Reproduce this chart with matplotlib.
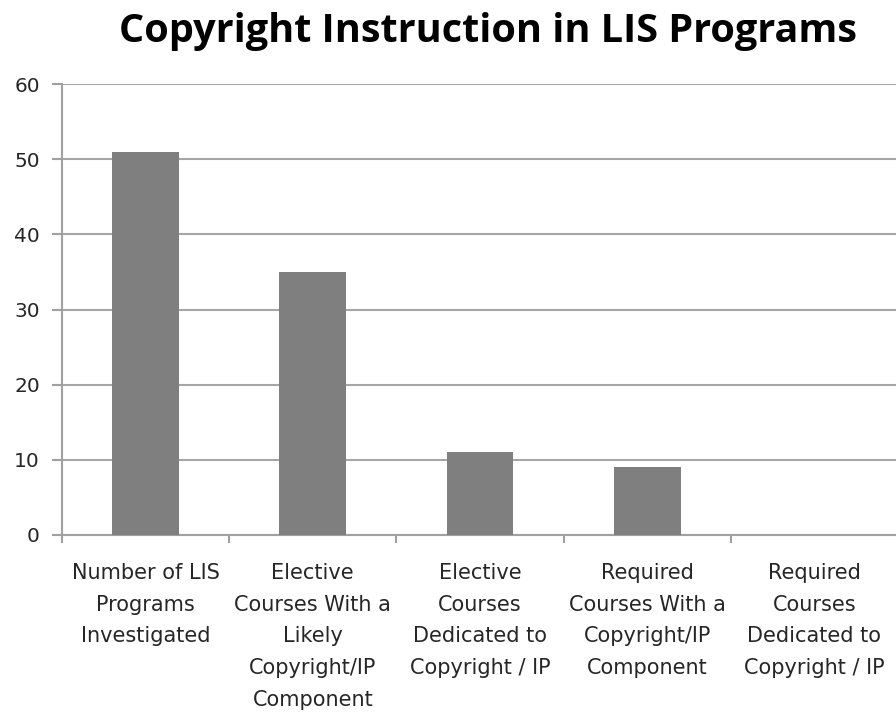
import matplotlib
matplotlib.use("Agg")
import matplotlib.pyplot as plt
import numpy as np

# Chart data
categories = [
    "Number of LIS\nPrograms\nInvestigated",
    "Elective\nCourses With a\nLikely\nCopyright/IP\nComponent",
    "Elective\nCourses\nDedicated to\nCopyright / IP",
    "Required\nCourses With a\nCopyright/IP\nComponent",
    "Required\nCourses\nDedicated to\nCopyright / IP",
]
values = [51, 35, 11, 9, 0]
y_ticks = [0, 10, 20, 30, 40, 50, 60]

bar_color = "#7f7f7f"
grid_color = "#a6a6a6"
axis_color = "#a0a0a0"

fig = plt.figure(figsize=(8.96, 7.13), dpi=100)
# axes frame in pixel terms: left 62, right ~898, top 84, bottom 535
W, H = 896, 713
ax = fig.add_axes([62 / W, 1 - 535 / H, (898 - 62) / W, (535 - 84) / H])

x = np.arange(len(categories))
ax.bar(x, values, width=0.4, color=bar_color, zorder=3)

ax.set_xlim(-0.5, len(categories) - 0.5)
ax.set_ylim(0, 60)
ax.set_yticks(y_ticks)
ax.yaxis.grid(True, color=grid_color, linewidth=1.5, zorder=0)

for s in ["top", "right"]:
    ax.spines[s].set_visible(False)
for s in ["left", "bottom"]:
    ax.spines[s].set_color(axis_color)
    ax.spines[s].set_linewidth(1.5)

ax.tick_params(axis="y", length=7, width=1.5, color=axis_color,
               labelsize=14.5, pad=9, labelcolor="#262626")

# category labels on majors (no tick line), boundaries on minors
ax.set_xticks(x)
ax.set_xticklabels(categories, fontsize=15, color="#262626", linespacing=1.74)
ax.tick_params(axis="x", which="major", length=0, pad=20)
ax.set_xticks(np.arange(len(categories) + 1) - 0.5, minor=True)
ax.tick_params(axis="x", which="minor", length=6, width=1.5, color=axis_color)

fig.text(488 / W, 1 - 42 / H, "Copyright Instruction in LIS Programs",
         ha="center", va="baseline", fontsize=28.5, fontweight="bold",
         family="Open Sans", color="black")

plt.savefig("out.png", dpi=100)
